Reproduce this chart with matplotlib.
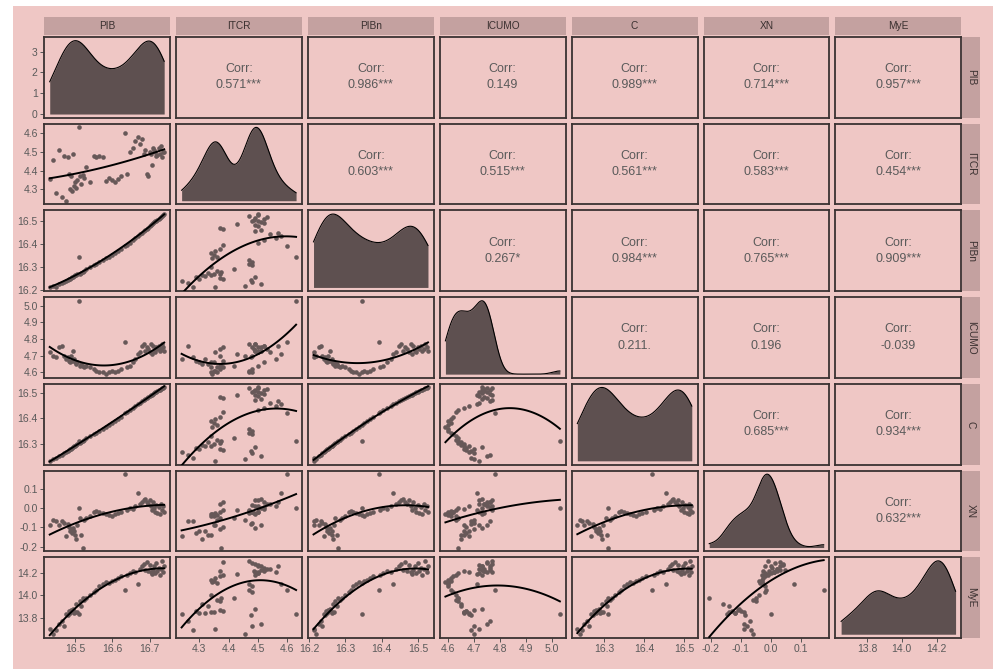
import matplotlib
matplotlib.use('Agg')
import matplotlib.pyplot as plt
import numpy as np
from matplotlib.patches import Rectangle

plt.rcParams['font.family'] = ['Liberation Sans', 'DejaVu Sans']
plt.rcParams['axes.unicode_minus'] = False

names = ['PIB', 'ITCR', 'PIBn', 'ICUMO', 'C', 'XN', 'MyE']

PIB = [16.432, 16.441, 16.449, 16.457, 16.464, 16.470, 16.476, 16.481, 16.484, 16.487,
       16.490, 16.492, 16.495, 16.498, 16.500, 16.503, 16.506, 16.510, 16.512, 16.516,
       16.520, 16.524, 16.530, 16.540, 16.552, 16.556, 16.565, 16.575, 16.582, 16.590,
       16.598, 16.606, 16.614, 16.622, 16.634, 16.640, 16.648, 16.655, 16.662, 16.669,
       16.674, 16.680, 16.684, 16.688, 16.692, 16.696, 16.700, 16.703, 16.706, 16.709,
       16.712, 16.715, 16.718, 16.721, 16.724, 16.727, 16.730, 16.733, 16.736, 16.739]
ITCR = [4.355, 4.457, 4.280, 4.510, 4.262, 4.480, 4.240, 4.475, 4.380, 4.300,
        4.370, 4.290, 4.490, 4.320, 4.340, 4.310, 4.350, 4.630, 4.370, 4.330,
        4.375, 4.360, 4.420, 4.340, 4.480, 4.470, 4.480, 4.470, 4.345, 4.360,
        4.350, 4.340, 4.355, 4.370, 4.600, 4.380, 4.500, 4.520, 4.560, 4.580,
        4.540, 4.570, 4.490, 4.510, 4.380, 4.370, 4.500, 4.490, 4.430, 4.520,
        4.510, 4.500, 4.480, 4.485, 4.520, 4.490, 4.530, 4.470, 4.500, 4.500]
PIBn = [16.212, 16.218, 16.212, 16.228, 16.232, 16.236, 16.240, 16.244, 16.247, 16.250,
        16.253, 16.255, 16.258, 16.262, 16.264, 16.266, 16.268, 16.345, 16.272, 16.276,
        16.280, 16.284, 16.290, 16.300, 16.310, 16.315, 16.322, 16.330, 16.338, 16.345,
        16.352, 16.360, 16.368, 16.377, 16.392, 16.395, 16.405, 16.415, 16.425, 16.432,
        16.440, 16.448, 16.454, 16.460, 16.465, 16.470, 16.476, 16.480, 16.484, 16.488,
        16.492, 16.496, 16.500, 16.504, 16.508, 16.512, 16.516, 16.520, 16.524, 16.528]
ICUMO = [4.72, 4.70, 4.69, 4.75, 4.76, 4.70, 4.68, 4.69, 4.67, 4.66,
         4.70, 4.67, 4.73, 4.68, 4.66, 4.65, 4.66, 5.03, 4.64, 4.65,
         4.64, 4.63, 4.64, 4.63, 4.62, 4.61, 4.60, 4.60, 4.59, 4.60,
         4.61, 4.60, 4.61, 4.62, 4.78, 4.63, 4.64, 4.66, 4.68, 4.71,
         4.72, 4.76, 4.77, 4.73, 4.75, 4.74, 4.72, 4.77, 4.71, 4.76,
         4.73, 4.72, 4.75, 4.74, 4.76, 4.73, 4.74, 4.77, 4.75, 4.73]
C = [16.232, 16.238, 16.244, 16.250, 16.256, 16.261, 16.266, 16.271, 16.274, 16.278,
     16.280, 16.284, 16.287, 16.290, 16.292, 16.295, 16.297, 16.310, 16.303, 16.306,
     16.310, 16.314, 16.320, 16.328, 16.338, 16.342, 16.350, 16.358, 16.365, 16.372,
     16.380, 16.388, 16.396, 16.404, 16.420, 16.424, 16.432, 16.440, 16.447, 16.455,
     16.460, 16.466, 16.470, 16.474, 16.478, 16.482, 16.486, 16.489, 16.492, 16.495,
     16.498, 16.501, 16.504, 16.507, 16.510, 16.512, 16.514, 16.516, 16.518, 16.520]
XN = [-0.090, -0.060, -0.065, -0.090, -0.070, -0.080, -0.145, -0.085, -0.100, -0.120,
      -0.110, -0.130, -0.105, -0.120, -0.140, -0.160, -0.090, 0.000, -0.050, -0.140,
      -0.205, -0.060, -0.050, -0.040, -0.020, -0.015, -0.020, -0.025, -0.030, -0.035,
      -0.040, -0.030, -0.025, -0.020, 0.175, -0.010, 0.000, -0.005, 0.010, 0.077,
      0.020, 0.030, 0.040, 0.045, 0.030, 0.020, 0.040, 0.010, -0.010, 0.030,
      0.000, -0.020, 0.015, -0.025, 0.005, -0.030, 0.020, -0.010, 0.010, -0.020]
MyE = [13.70, 13.65, 13.69, 13.74, 13.77, 13.72, 13.83, 13.82, 13.86, 13.84,
       13.87, 13.86, 13.88, 13.84, 13.85, 13.92, 13.85, 13.83, 13.95, 13.90,
       13.98, 13.96, 13.98, 14.00, 14.03, 14.05, 14.08, 14.10, 14.12, 14.11,
       14.13, 14.14, 14.16, 14.17, 14.05, 14.18, 14.20, 14.22, 14.21, 14.10,
       14.24, 14.26, 14.28, 14.23, 14.30, 14.22, 14.27, 14.21, 14.19, 14.23,
       14.26, 14.20, 14.29, 14.22, 14.25, 14.18, 14.24, 14.31, 14.21, 14.26]

data = [PIB, ITCR, PIBn, ICUMO, C, XN, MyE]

# etiquetas de correlacion (triangulo superior, fila por fila)
corr_labels = ['0.571***', '0.986***', '0.149', '0.989***', '0.714***', '0.957***',
               '0.603***', '0.515***', '0.561***', '0.583***', '0.454***',
               '0.267*', '0.984***', '0.765***', '0.909***',
               '0.211.', '0.196', '-0.039',
               '0.685***', '0.934***',
               '0.632***']

ticks = [[16.5, 16.6, 16.7], [4.3, 4.4, 4.5, 4.6], [16.2, 16.3, 16.4, 16.5],
         [4.6, 4.7, 4.8, 4.9, 5.0], [16.3, 16.4, 16.5], [-0.2, -0.1, 0.0, 0.1],
         [13.8, 14.0, 14.2]]
density_ticks = [0, 1, 2, 3]

bg = '#efc7c5'
strip_col = '#c4a1a0'
fill_col = '#5e5050'
pt_col = '#675858'
border = '#3a3232'
txt_col = '#5a5a5a'

W, H = 993, 669
fig = plt.figure(figsize=(W / 100, H / 100), dpi=100, facecolor='white')
fig.patches.append(Rectangle((13 / W, 0), 1 - 13 / W, 1 - 6 / H, transform=fig.transFigure,
                             facecolor=bg, edgecolor='none', zorder=-10))


def fax(x0, y0, w, h):
    return fig.add_axes([x0 / W, 1 - (y0 + h) / H, w / W, h / H])


def lims(v):
    lo, hi = min(v), max(v)
    r = hi - lo
    return lo - 0.05 * r, hi + 0.05 * r


def kde(v):
    v = np.asarray(v)
    n = len(v)
    sd = v.std(ddof=1)
    iqr = np.percentile(v, 75) - np.percentile(v, 25)
    bw = 0.9 * min(sd, iqr / 1.34) * n ** -0.2
    xs = np.linspace(v.min(), v.max(), 300)
    ys = np.exp(-0.5 * ((xs[:, None] - v[None, :]) / bw) ** 2).sum(1) / (n * bw * np.sqrt(2 * np.pi))
    return xs, ys


pw, ph, gap = 125.9, 80.7, 6.0
left0, top0 = 44, 37
n = len(names)
k = 0
for r in range(n):
    for c in range(n):
        x0 = left0 + c * (pw + gap)
        y0 = top0 + r * (ph + gap)
        ax = fax(x0, y0, pw, ph)
        ax.set_facecolor(bg)
        for s in ax.spines.values():
            s.set_color(border)
            s.set_linewidth(1.3)
        ax.set_xlim(lims(data[c]))
        if r == c:
            xs, ys = kde(data[c])
            ax.fill_between(xs, 0, ys, color=fill_col, lw=0)
            ax.plot(xs, ys, color='black', lw=0.8)
            ax.set_ylim(-0.05 * ys.max(), ys.max() * 1.05)
        elif r > c:
            ax.set_ylim(lims(data[r]))
            ax.scatter(data[c], data[r], s=11, color=pt_col, lw=0, zorder=2)
            p = np.polyfit(data[c], data[r], 2)
            xs = np.linspace(min(data[c]), max(data[c]), 100)
            ax.plot(xs, np.polyval(p, xs), color='black', lw=1.4, zorder=3)
        else:
            ax.set_ylim(0, 1)
            ax.text(0.5, 0.6, 'Corr:', ha='center', va='center', fontsize=9, color=txt_col,
                    transform=ax.transAxes)
            ax.text(0.5, 0.4, corr_labels[k], ha='center', va='center', fontsize=9, color=txt_col,
                    transform=ax.transAxes)
            k += 1

        ax.tick_params(length=3, width=0.7, color='#555555', labelsize=7.5, labelcolor=txt_col, pad=1.5)
        if r == n - 1:
            ax.set_xticks(ticks[c])
            ax.set_xticklabels(['%.1f' % t for t in ticks[c]])
        else:
            ax.set_xticks([])
        if c == 0 and r > 0:
            ax.set_yticks(ticks[r])
            ax.set_yticklabels(['%.1f' % t for t in ticks[r]])
        elif c == 0 and r == 0:
            ax.set_yticks(density_ticks)
            ax.set_yticklabels([str(t) for t in density_ticks])
        else:
            ax.set_yticks([])

        # tiras
        if r == 0:
            sa = fax(x0, 17, pw, 18)
            sa.set_facecolor(strip_col)
            sa.set_xticks([]); sa.set_yticks([])
            for s in sa.spines.values():
                s.set_visible(False)
            sa.text(0.5, 0.5, names[c], ha='center', va='center', fontsize=7.3, color='#3a3030')
        if c == n - 1:
            sa = fax(961.5, y0, 18.5, ph)
            sa.set_facecolor(strip_col)
            sa.set_xticks([]); sa.set_yticks([])
            for s in sa.spines.values():
                s.set_visible(False)
            sa.text(0.5, 0.5, names[r], ha='center', va='center', fontsize=7.3, color='#3a3030',
                    rotation=-90)

fig.savefig('out.png', dpi=100, facecolor='white')
